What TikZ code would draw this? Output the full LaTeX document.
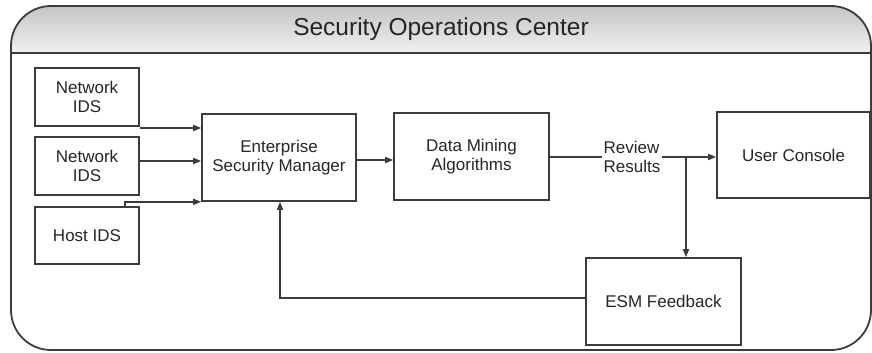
\documentclass[tikz,border=0pt]{standalone}
\usepackage{fontspec}
\setmainfont{Liberation Sans}
\usetikzlibrary{arrows.meta}
\definecolor{edge}{HTML}{3C3C3C}
\definecolor{ink}{HTML}{262626}
\definecolor{headtop}{HTML}{C4C4C4}
\definecolor{headbot}{HTML}{F2F2F2}
\begin{document}
\begin{tikzpicture}[x=1pt,y=-1pt,
  every node/.style={font=\fontsize{17}{19.5}\selectfont, text=ink},
  unit/.style={draw=edge, line width=1.6pt, fill=white, align=center, inner sep=0pt},
  flow/.style={draw=edge, line width=1.6pt, -{Triangle[length=8pt,width=6pt]}},
  plain/.style={draw=edge, line width=1.6pt}]
\useasboundingbox (0,0) rectangle (872,353);
% outer frame with shaded title band
\begin{scope}
  \clip[rounded corners=40pt] (11,6) rectangle (871,350);
  \fill[top color=headtop, bottom color=headbot] (11,6) rectangle (871,53);
\end{scope}
\draw[edge, line width=1.8pt, rounded corners=40pt] (11,6) rectangle (871,350);
\draw[edge, line width=1.8pt] (11,53) -- (871,53);
\node (title) at (441,29) {\fontsize{24.5}{28}\selectfont Security Operations Center};
% boxes
\node[unit, minimum width=104pt, minimum height=58pt] (nids1) at (87,97) {Network\\IDS};
\node[unit, minimum width=104pt, minimum height=58pt] (nids2) at (87,166) {Network\\IDS};
\node[unit, minimum width=104pt, minimum height=57pt] (hids) at (87,235.5) {Host IDS};
\node[unit, minimum width=154pt, minimum height=87pt] (esm) at (279,157.5) {Enterprise\\Security Manager};
\node[unit, minimum width=155pt, minimum height=87pt] (dm) at (471.5,156.5) {Data Mining\\Algorithms};
\node[unit, minimum width=153pt, minimum height=86pt] (uc) at (793.5,155) {User Console};
\node[unit, minimum width=155pt, minimum height=87pt] (fb) at (663.5,301.5) {ESM Feedback};
% connectors
\coordinate (hidsout) at (125,207);
\coordinate (split) at (686,157);
\coordinate (fbturn) at (280,298);
\draw[flow] (nids1.south east |- 0,128) -- (esm.west |- 0,128);
\draw[flow] (nids2.east |- 0,161) -- (esm.west |- 0,161);
\draw[flow] (hidsout |- hids.north) -- (hidsout |- esm.south west) -- (esm.south west);
\draw[flow] (esm.east |- 0,160) -- (dm.west |- 0,160);
\draw[plain] (dm.east |- 0,157) -- (split);
\draw[flow] (split) -- (uc.west |- split);
\draw[flow] (split) -- (split |- fb.north);
\draw[flow] (fb.west |- fbturn) -- (fbturn) -- (fbturn |- esm.south);
\node[fill=white, align=left, inner sep=1.5pt, font=\fontsize{17}{19}\selectfont] (rev) at (632,157) {Review\\Results};
\end{tikzpicture}
\end{document}
